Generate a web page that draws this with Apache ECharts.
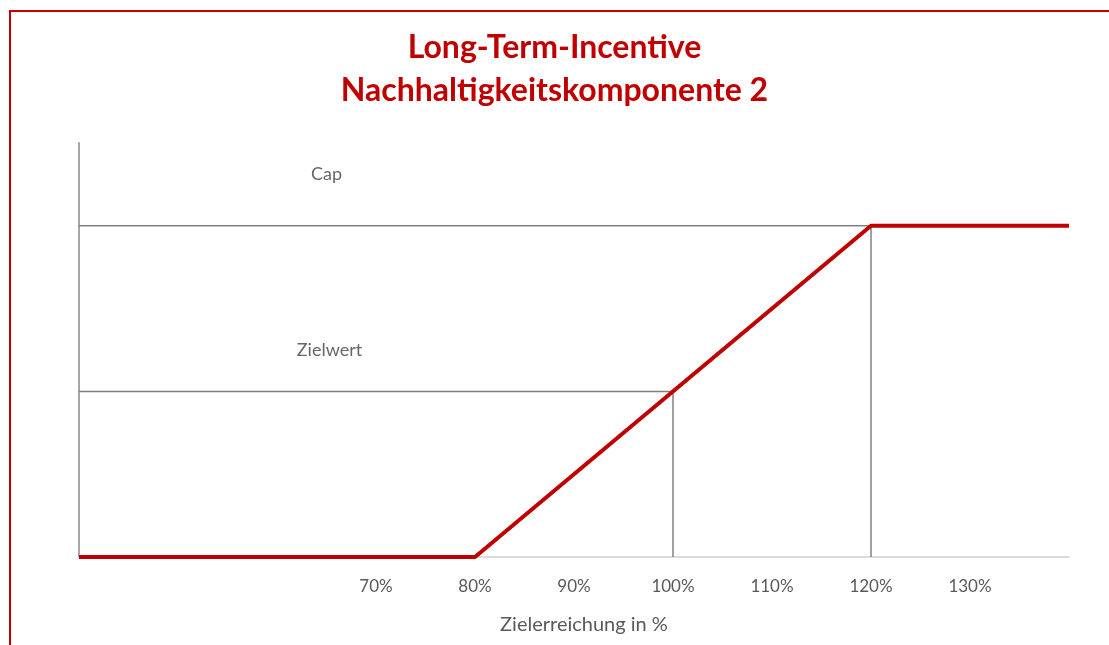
<!DOCTYPE html>
<html>
<head>
<meta charset="utf-8">
<script src="https://cdn.jsdelivr.net/npm/echarts@6/dist/echarts.min.js"></script>
<style>
  html, body { margin: 0; background: #fff; overflow: hidden; }
  #chart { position: absolute; left: 0; top: 0; width: 1109px; height: 645px; }
  #rahmen { position: absolute; left: 9px; top: 10px; width: 1098px; height: 633px;
            border-top: 2px solid #c00000; border-left: 2px solid #c00000; pointer-events: none; }
</style>
</head>
<body>
<div id="chart"></div>
<div id="rahmen"></div>
<script>
// Zielerreichung (x) und Auszahlung (y) der LTI-Kurve
var kurveX = [40, 80, 120, 140];
var kurveY = [0, 0, 2, 2];

// Hilfslinien für Zielwert und Cap
var zielwertX = [40, 100, 100];
var zielwertY = [1, 1, 0];
var capX = [40, 120, 120];
var capY = [2, 2, 0];

// Beschriftungen im Diagramm
var beschriftungen = ['Cap', 'Zielwert'];
var beschriftungX = [65, 65.3];
var beschriftungY = [2.31, 1.25];

// Achsenbeschriftungen, die angezeigt werden
var tickLabels = [70, 80, 90, 100, 110, 120, 130];

function paare(xs, ys) {
  return xs.map(function (x, i) { return [x, ys[i]]; });
}

var schrift = 'Lato, "Open Sans", sans-serif';
var chart = echarts.init(document.getElementById('chart'));

var option = {
  animation: false,
  title: {
    text: 'Long-Term-Incentive\nNachhaltigkeitskomponente 2',
    left: 'center',
    top: 26,
    padding: [0, 0, 0, 20],
    textStyle: {
      color: '#c00000',
      fontSize: 32,
      fontWeight: 'bold',
      fontFamily: schrift,
      lineHeight: 43
    }
  },
  grid: { left: 79, right: 40, top: 143, bottom: 88 },
  xAxis: {
    type: 'value',
    min: 40,
    max: 140,
    interval: 10,
    name: 'Zielerreichung in %',
    nameLocation: 'middle',
    nameGap: 58,
    nameTextStyle: { color: '#595959', fontSize: 20, fontFamily: schrift, padding: [0, 0, 0, 20] },
    axisLine: { show: true, onZero: false, lineStyle: { color: '#d0d0d0', width: 1.5 } },
    axisTick: { show: false },
    splitLine: { show: false },
    axisLabel: {
      color: '#595959',
      fontSize: 17,
      fontFamily: schrift,
      margin: 21,
      showMinLabel: true,
      showMaxLabel: true,
      formatter: function (v) {
        return tickLabels.indexOf(v) >= 0 ? v + '%' : '';
      }
    }
  },
  yAxis: {
    type: 'value',
    min: 0,
    max: 2.5,
    axisLine: { show: true, lineStyle: { color: '#a6a6a6', width: 2 } },
    axisTick: { show: false },
    axisLabel: { show: false },
    splitLine: { show: false }
  },
  series: [
    {
      name: 'Zielwert',
      type: 'line',
      data: paare(zielwertX, zielwertY),
      symbol: 'none',
      lineStyle: { color: '#808080', width: 1.5 },
      z: 2
    },
    {
      name: 'Cap',
      type: 'line',
      data: paare(capX, capY),
      symbol: 'none',
      lineStyle: { color: '#808080', width: 1.5 },
      z: 2
    },
    {
      name: 'LTI',
      type: 'line',
      data: paare(kurveX, kurveY),
      symbol: 'none',
      lineStyle: { color: '#c00000', width: 4 },
      z: 5
    },
    {
      name: 'Beschriftung',
      type: 'scatter',
      symbolSize: 0,
      itemStyle: { color: 'transparent' },
      data: beschriftungen.map(function (t, i) {
        return { value: [beschriftungX[i], beschriftungY[i]], name: t };
      }),
      label: {
        show: true,
        position: 'inside',
        formatter: '{b}',
        color: '#404040',
        fontSize: 18,
        fontFamily: schrift
      }
    }
  ]
};

chart.setOption(option);
</script>
</body>
</html>
